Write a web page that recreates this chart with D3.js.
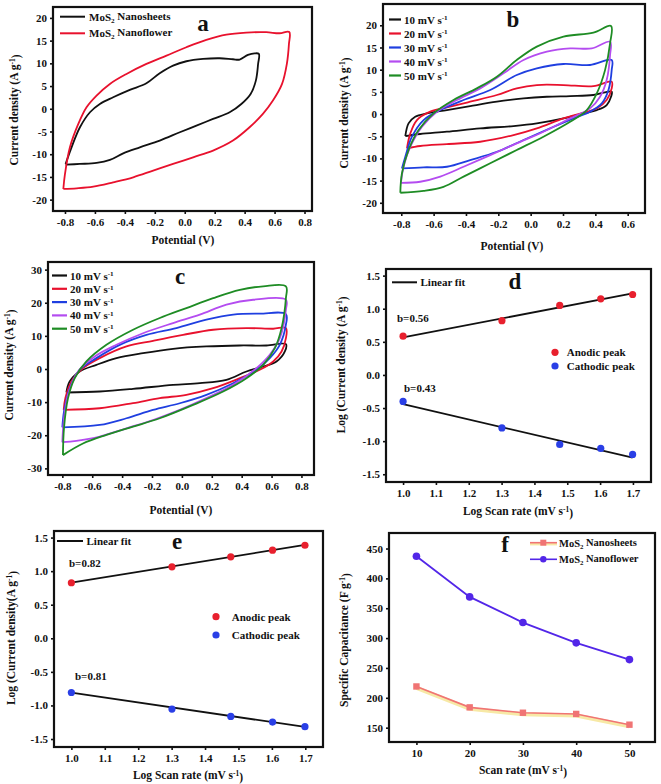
<!DOCTYPE html>
<html><head><meta charset="utf-8">
<script src="https://cdn.jsdelivr.net/npm/d3@7"></script>
<style>body{margin:0;background:#fff}svg{display:block}text{font-family:"Liberation Serif","Times New Roman",serif;font-weight:bold;fill:#111}</style>
</head><body><svg id="c" width="661" height="784"></svg>
<script>
// ---------- DATA ----------
// Panel a: CV at 10 mV/s (x: potential V, y: current density A/g)
const aNanosheets = [[-0.796,-12.15],[-0.756,-8.48],[-0.7,-4.07],[-0.633,-0.77],[-0.567,1.06],[-0.478,2.53],[-0.367,4.15],[-0.256,5.61],[-0.167,7.82],[-0.078,9.5],[0.011,10.46],[0.122,10.97],[0.233,11.12],[0.322,10.9],[0.367,10.83],[0.422,11.85],[0.467,12.2],[0.495,12.07],[0.49,9.87],[0.475,6.2],[0.44,3.27],[0.378,1.06],[0.3,-0.77],[0.189,-2.24],[0.078,-3.71],[-0.033,-5.17],[-0.167,-7.0],[-0.3,-8.48],[-0.411,-9.8],[-0.5,-11.26],[-0.589,-11.93],[-0.7,-12.15],[-0.796,-12.3]];
const aNanoflower = [[-0.811,-17.65],[-0.8,-14.35],[-0.767,-8.48],[-0.711,-3.34],[-0.656,0.33],[-0.589,2.9],[-0.5,5.47],[-0.389,7.67],[-0.256,9.87],[-0.122,11.71],[0.011,13.54],[0.144,15.16],[0.278,16.33],[0.411,16.77],[0.544,16.85],[0.633,16.62],[0.698,16.9],[0.696,14.28],[0.682,9.87],[0.65,5.47],[0.589,1.8],[0.522,-1.14],[0.433,-4.07],[0.322,-7.0],[0.189,-9.2],[0.056,-10.68],[-0.078,-12.15],[-0.211,-13.61],[-0.344,-15.08],[-0.478,-16.18],[-0.611,-17.14],[-0.722,-17.5],[-0.811,-17.65]];
const aNames = ["MoS2 Nanosheets","MoS2 Nanoflower"];

// Panel b: CV at different scan rates
const bRates = ["10","20","30","40","50"];
const b10 = [[-0.775,-4.96],[-0.755,-2.1],[-0.714,-0.6],[-0.641,0.15],[-0.518,0.9],[-0.374,1.8],[-0.209,2.78],[-0.044,3.53],[0.1,3.9],[0.244,4.06],[0.388,4.29],[0.501,5.04],[0.497,3.9],[0.47,2.03],[0.409,0.9],[0.326,0.15],[0.203,-0.98],[0.038,-2.1],[-0.106,-2.7],[-0.312,-3.23],[-0.518,-3.98],[-0.683,-4.5],[-0.775,-4.96]];
const b20 = [[-0.765,-7.74],[-0.744,-4.36],[-0.703,-1.35],[-0.621,0.53],[-0.518,1.5],[-0.374,2.78],[-0.209,4.29],[-0.086,5.79],[0.038,6.54],[0.203,6.54],[0.388,6.3],[0.501,7.3],[0.501,5.79],[0.47,3.16],[0.409,1.28],[0.326,0.3],[0.203,-0.98],[0.038,-3.23],[-0.106,-4.74],[-0.312,-6.24],[-0.518,-6.77],[-0.683,-7.2],[-0.765,-7.74]];
const b30 = [[-0.796,-12.26],[-0.775,-9.6],[-0.734,-5.1],[-0.662,-1.35],[-0.559,0.9],[-0.415,3.16],[-0.25,5.41],[-0.086,8.8],[0.038,10.3],[0.203,11.28],[0.367,11.05],[0.501,12.18],[0.501,9.9],[0.481,5.41],[0.44,2.4],[0.367,0.53],[0.264,-0.98],[0.12,-3.23],[-0.044,-5.86],[-0.209,-8.5],[-0.374,-10.38],[-0.518,-11.88],[-0.662,-12.0],[-0.796,-12.26]];
const b40 = [[-0.802,-15.5],[-0.786,-11.88],[-0.744,-7.37],[-0.672,-2.86],[-0.58,0.53],[-0.456,3.16],[-0.312,5.79],[-0.168,9.17],[-0.044,12.18],[0.1,14.06],[0.244,14.8],[0.378,14.8],[0.491,16.3],[0.491,13.3],[0.47,7.67],[0.429,3.9],[0.367,1.28],[0.244,-0.98],[0.079,-3.98],[-0.086,-6.6],[-0.25,-9.25],[-0.415,-11.88],[-0.559,-14.1],[-0.683,-15.26],[-0.802,-15.5]];
const b50 = [[-0.806,-17.74],[-0.796,-13.4],[-0.755,-8.1],[-0.693,-3.6],[-0.6,0.15],[-0.477,3.16],[-0.333,5.79],[-0.209,8.42],[-0.086,12.18],[0.038,15.2],[0.203,17.44],[0.388,18.35],[0.497,19.85],[0.491,15.94],[0.46,9.9],[0.409,4.66],[0.347,0.9],[0.244,-1.73],[0.079,-5.1],[-0.086,-8.1],[-0.25,-11.1],[-0.415,-14.1],[-0.539,-16.4],[-0.662,-17.3],[-0.806,-17.74]];

// Panel c
const c10 = [[-0.773,-7.1],[-0.751,-3.8],[-0.684,-0.76],[-0.572,1.26],[-0.438,3.28],[-0.26,4.79],[-0.059,6.1],[0.164,6.8],[0.388,7.1],[0.566,7.1],[0.696,7.5],[0.689,5.3],[0.633,2.27],[0.544,0.76],[0.432,-0.76],[0.298,-3.28],[0.12,-4.29],[-0.059,-4.79],[-0.327,-6.0],[-0.55,-6.8],[-0.773,-7.1]];
const c20 = [[-0.791,-12.35],[-0.78,-8.8],[-0.74,-3.8],[-0.662,0.25],[-0.55,3.28],[-0.371,6.8],[-0.193,8.5],[0.008,10.3],[0.209,11.85],[0.432,12.35],[0.611,12.15],[0.696,12.35],[0.696,9.3],[0.667,5.3],[0.611,2.27],[0.521,-0.25],[0.388,-2.77],[0.209,-5.8],[0.03,-7.8],[-0.148,-8.8],[-0.327,-10.3],[-0.55,-11.85],[-0.791,-12.35]];
const c30 = [[-0.8,-17.6],[-0.789,-12.86],[-0.751,-5.8],[-0.684,-0.25],[-0.572,3.28],[-0.416,7.3],[-0.237,10.3],[-0.037,12.35],[0.164,14.87],[0.343,16.4],[0.521,16.7],[0.696,16.6],[0.696,13.36],[0.655,7.3],[0.588,3.28],[0.499,-0.25],[0.343,-4.29],[0.164,-7.8],[-0.014,-10.34],[-0.193,-12.35],[-0.371,-14.87],[-0.55,-16.9],[-0.8,-17.6]];
const c40 = [[-0.8,-22.1],[-0.791,-15.9],[-0.762,-7.8],[-0.695,-0.76],[-0.583,3.78],[-0.438,7.3],[-0.26,10.8],[-0.059,13.87],[0.12,16.4],[0.298,19.4],[0.477,20.9],[0.696,20.9],[0.696,17.9],[0.655,9.3],[0.588,4.29],[0.499,0.25],[0.343,-4.79],[0.164,-8.8],[-0.014,-12.35],[-0.193,-15.4],[-0.371,-17.9],[-0.55,-20.4],[-0.706,-21.7],[-0.8,-22.1]];
const c50 = [[-0.796,-26],[-0.789,-17.9],[-0.762,-8.8],[-0.717,-2.77],[-0.639,2.27],[-0.505,7.3],[-0.327,11.85],[-0.148,15.4],[0.03,18.4],[0.209,21.4],[0.388,23.9],[0.544,24.96],[0.696,24.96],[0.696,21.4],[0.667,12.35],[0.622,6.3],[0.544,1.26],[0.432,-2.77],[0.276,-6.8],[0.075,-10.84],[-0.148,-14.87],[-0.327,-17.4],[-0.505,-19.9],[-0.662,-22.5],[-0.796,-26]];

// Panels d and e: log scan rate vs log peak current
const logRate = [1.0, 1.301, 1.477, 1.602, 1.699];
const dAnodic = [0.585, 0.82, 1.05, 1.15, 1.215];
const dCathodic = [-0.40, -0.80, -1.05, -1.11, -1.20];
const dFitAnodic = [[1.0, 0.567], [1.699, 1.233]];
const dFitCathodic = [[1.0, -0.44], [1.699, -1.25]];
const eAnodic = [0.827, 1.064, 1.213, 1.312, 1.386];
const eCathodic = [-0.807, -1.054, -1.163, -1.248, -1.317];
const eFitAnodic = [[1.0, 0.83], [1.699, 1.39]];
const eFitCathodic = [[1.0, -0.81], [1.699, -1.32]];

// Panel f: specific capacitance vs scan rate
const scanRate = [10, 20, 30, 40, 50];
const fNanosheets = [219, 184, 175, 173, 155];
const fNanoflower = [437, 369, 326, 292, 264];

// ---------- DRAWING ----------
const svg = d3.select("#c");
svg.append("rect").attr("width",661).attr("height",784).attr("fill","#fff");
const cvColors = ["#111111","#e8112d","#1f3fe0","#b44cf0","#1e8c24"];

function addRich(t, parts){ // parts: [text, type]
  parts.forEach(([s,type])=>{
    const ts = t.append("tspan").text(s);
    if(type==="sup"){ts.attr("font-size","0.65em").attr("dy","-0.45em");}
    if(type==="sub"){ts.attr("font-size","0.65em").attr("dy","0.3em");}
    if(type==="back"){ts.attr("dy", t._last==="sup" ? "0.45em" : "-0.3em");}
    t._last = type;
  });
  return t;
}
function rich(g, x, y, parts, opts={}){
  const t = g.append("text").attr("x",x).attr("y",y).attr("font-size",opts.size||11);
  if(opts.anchor) t.attr("text-anchor",opts.anchor);
  if(opts.rotate) t.attr("transform",`rotate(-90,${x},${y})`);
  addRich(t, parts);
  return t;
}

function panel(cfg){
  const g = svg.append("g");
  const x = d3.scaleLinear().domain(cfg.xd).range([cfg.L,cfg.R]);
  const y = d3.scaleLinear().domain(cfg.yd).range([cfg.B,cfg.T]);
  const xa = d3.axisBottom(x).tickValues(cfg.xt).tickFormat(cfg.xf).tickSize(3).tickPadding(4);
  const ya = d3.axisLeft(y).tickValues(cfg.yt).tickFormat(cfg.yf).tickSize(3).tickPadding(3);
  const gx = g.append("g").attr("transform",`translate(0,${cfg.B})`).call(xa);
  const gy = g.append("g").attr("transform",`translate(${cfg.L},0)`).call(ya);
  [gx,gy].forEach(a=>{
    a.select(".domain").remove();
    a.selectAll("line").attr("stroke","#111").attr("stroke-width",1.6);
    a.selectAll("text").attr("font-size",11).attr("font-family",'"Liberation Serif",serif').attr("font-weight","bold").attr("fill","#111");
  });
  const id = "clip"+cfg.name;
  svg.append("clipPath").attr("id",id).append("rect").attr("x",cfg.L).attr("y",cfg.T).attr("width",cfg.R-cfg.L).attr("height",cfg.B-cfg.T);
  const plot = g.append("g").attr("clip-path",`url(#${id})`);
  g.append("rect").attr("x",cfg.L).attr("y",cfg.T).attr("width",cfg.R-cfg.L).attr("height",cfg.B-cfg.T)
    .attr("fill","none").attr("stroke","#111").attr("stroke-width",2.2);
  rich(g, cfg.xl[0], cfg.xl[1], cfg.xlabel, {anchor:"middle", size:11.5});
  rich(g, cfg.yl[0], cfg.yl[1], cfg.ylabel, {anchor:"middle", size:11.5, rotate:true});
  g.append("text").attr("x",cfg.letter[0]).attr("y",cfg.letter[1]).attr("text-anchor","middle").attr("font-size",23).text(cfg.name);
  return {g, plot, x, y};
}
const f1 = d=>d.toFixed(1);
const f0 = d=>String(d);
const cvLine = (p)=>d3.line().x(d=>p.x(d[0])).y(d=>p.y(d[1])).curve(d3.curveCatmullRom.alpha(0.5));

// Panel a
const pa = panel({name:"a",L:53,R:312,T:7,B:211,xd:[-0.88,0.85],yd:[-22.5,22.4],
  xt:d3.range(-0.8,0.81,0.2),xf:f1,yt:d3.range(-20,21,5),yf:f0,
  xl:[183,244],yl:[18,110],letter:[203,31],
  xlabel:[["Potential (V)"]],ylabel:[["Current density (A g"],["-1","sup"],[")","back"]]});
[aNanosheets,aNanoflower].forEach((s,i)=>{
  pa.plot.append("path").datum(s).attr("d",cvLine(pa)).attr("fill","none").attr("stroke",i?"#e8112d":"#111").attr("stroke-width",1.8);
});
aNames.forEach((n,i)=>{
  const yy = [16.7,33.3][i];
  pa.g.append("line").attr("x1",60).attr("x2",85).attr("y1",yy).attr("y2",yy).attr("stroke",i?"#e8112d":"#111").attr("stroke-width",2);
  rich(pa.g, 89, yy+4, [["MoS"],["2","sub"],[n.slice(4),"back"]], {size:11});
});

// Panel b
const pb = panel({name:"b",L:383,R:645,T:4,B:213,xd:[-0.913,0.707],yd:[-22.3,24.8],
  xt:d3.range(-0.8,0.61,0.2),xf:f1,yt:d3.range(-20,21,5),yf:f0,
  xl:[512,250],yl:[348,113],letter:[513,27],
  xlabel:[["Potential (V)"]],ylabel:[["Current density (A g"],["-1","sup"],[")","back"]]});
[b10,b20,b30,b40,b50].forEach((s,i)=>{
  pb.plot.append("path").datum(s).attr("d",cvLine(pb)).attr("fill","none").attr("stroke",cvColors[i]).attr("stroke-width",1.8);
});
bRates.forEach((r,i)=>{
  const yy = 19.5+i*14;
  pb.g.append("line").attr("x1",389).attr("x2",401).attr("y1",yy).attr("y2",yy).attr("stroke",cvColors[i]).attr("stroke-width",2.2);
  rich(pb.g, 404, yy+4, [[r+" mV s"],["-1","sup"]], {size:11});
});

// Panel c
const pc = panel({name:"c",L:48,R:314,T:262,B:475,xd:[-0.896,0.884],yd:[-32,32.3],
  xt:d3.range(-0.8,0.81,0.2),xf:f1,yt:d3.range(-30,31,10),yf:f0,
  xl:[181,514],yl:[13,365],letter:[180,284],
  xlabel:[["Potential (V)"]],ylabel:[["Current density (A g"],["-1","sup"],[")","back"]]});
[c10,c20,c30,c40,c50].forEach((s,i)=>{
  pc.plot.append("path").datum(s).attr("d",cvLine(pc)).attr("fill","none").attr("stroke",cvColors[i]).attr("stroke-width",1.8);
});
bRates.forEach((r,i)=>{
  const yy = 275.5+i*13.3;
  pc.g.append("line").attr("x1",52).attr("x2",67).attr("y1",yy).attr("y2",yy).attr("stroke",cvColors[i]).attr("stroke-width",2.2);
  rich(pc.g, 70, yy+4, [[r+" mV s"],["-1","sup"]], {size:11});
});

// Panels d, e
function logPanel(cfg, an, ca, fa, fc, leg){
  const p = panel(cfg);
  const ln = d3.line().x(d=>p.x(d[0])).y(d=>p.y(d[1]));
  [fa,fc].forEach(f=>p.plot.append("path").datum(f).attr("d",ln).attr("stroke","#111").attr("stroke-width",1.8).attr("fill","none"));
  [[an,"#e8202e"],[ca,"#2a3fe6"]].forEach(([s,col])=>{
    p.plot.selectAll(null).data(s).enter().append("circle")
      .attr("cx",(d,i)=>p.x(logRate[i])).attr("cy",d=>p.y(d)).attr("r",3.6).attr("fill",col);
  });
  p.g.append("line").attr("x1",leg.fit[0]).attr("x2",leg.fit[1]).attr("y1",leg.fit[2]).attr("y2",leg.fit[2]).attr("stroke","#111").attr("stroke-width",2);
  p.g.append("text").attr("x",leg.fit[1]+3.5).attr("y",leg.fit[2]+4).attr("font-size",11).text("Linear fit");
  p.g.append("text").attr("x",leg.b1[0]).attr("y",leg.b1[1]+4).attr("font-size",11).text(leg.b1[2]);
  p.g.append("text").attr("x",leg.b2[0]).attr("y",leg.b2[1]+4).attr("font-size",11).text(leg.b2[2]);
  [["Anodic peak","#e8202e"],["Cathodic peak","#2a3fe6"]].forEach(([t,col],i)=>{
    const yy = leg.dots[1]+i*leg.dots[3];
    p.g.append("circle").attr("cx",leg.dots[0]).attr("cy",yy).attr("r",3.6).attr("fill",col);
    p.g.append("text").attr("x",leg.dots[2]).attr("y",yy+4).attr("font-size",11).text(t);
  });
  return p;
}
logPanel({name:"d",L:386,R:651,T:269,B:482,xd:[0.948,1.755],yd:[-1.617,1.6],
  xt:d3.range(1.0,1.701,0.1),xf:f1,yt:d3.range(-1.5,1.51,0.5),yf:f1,
  xl:[518,515],yl:[345,365],letter:[515,289],
  xlabel:[["Log Scan rate (mV s"],["-1","sup"],[")","back"]],ylabel:[["Log (Current density (A g"],["-1","sup"],[")","back"]]},
  dAnodic,dCathodic,dFitAnodic,dFitCathodic,
  {fit:[392,417,282.3],b1:[397,318.3,"b=0.56"],b2:[404,388.3,"b=0.43"],dots:[555,352.3,566.7,13.7]});
logPanel({name:"e",L:54,R:323,T:531,B:747,xd:[0.948,1.753],yd:[-1.619,1.598],
  xt:d3.range(1.0,1.701,0.1),xf:f1,yt:d3.range(-1.5,1.51,0.5),yf:f1,
  xl:[188,779],yl:[15,638],letter:[177,549],
  xlabel:[["Log Scan rate (mV s"],["-1","sup"],[")","back"]],ylabel:[["Log (Current density(A g"],["-1","sup"],[")","back"]]},
  eAnodic,eCathodic,eFitAnodic,eFitCathodic,
  {fit:[57,83,541],b1:[69,563.3,"b=0.82"],b2:[75,675.7,"b=0.81"],dots:[216,616.7,231.7,18.3]});

// Panel f
const pf = panel({name:"f",L:389,R:655,T:533,B:742,xd:[4.85,54.8],yd:[126,476],
  xt:scanRate,xf:f0,yt:d3.range(150,451,50),yf:f0,
  xl:[523,774],yl:[348,640],letter:[505,552],
  xlabel:[["Scan rate (mV s"],["-1","sup"],[")","back"]],ylabel:[["Specific Capacitance (F g"],["-1","sup"],[")","back"]]});
const fl = d3.line().x((d,i)=>pf.x(scanRate[i])).y(d=>pf.y(d));
pf.plot.append("path").datum(fNanosheets).attr("d",fl).attr("transform","translate(0,1.5)").attr("fill","none").attr("stroke","#f7e9a6").attr("stroke-width",4);
pf.plot.append("path").datum(fNanosheets).attr("d",fl).attr("fill","none").attr("stroke","#f07474").attr("stroke-width",1.6);
pf.plot.selectAll(null).data(fNanosheets).enter().append("rect")
  .attr("x",(d,i)=>pf.x(scanRate[i])-3.2).attr("y",d=>pf.y(d)-3.2).attr("width",6.4).attr("height",6.4).attr("fill","#f07474");
pf.plot.append("path").datum(fNanoflower).attr("d",fl).attr("fill","none").attr("stroke","#5226e8").attr("stroke-width",1.8);
pf.plot.selectAll(null).data(fNanoflower).enter().append("circle")
  .attr("cx",(d,i)=>pf.x(scanRate[i])).attr("cy",d=>pf.y(d)).attr("r",3.8).attr("fill","#5226e8");
aNames.forEach((n,i)=>{
  const yy=[542.7,559.3][i], col=i?"#5226e8":"#f07474";
  if(!i) pf.g.append("line").attr("x1",530).attr("x2",557).attr("y1",yy+1.2).attr("y2",yy+1.2).attr("stroke","#f7e9a6").attr("stroke-width",3);
  pf.g.append("line").attr("x1",530).attr("x2",557).attr("y1",yy).attr("y2",yy).attr("stroke",col).attr("stroke-width",1.6);
  if(i) pf.g.append("circle").attr("cx",543.3).attr("cy",yy).attr("r",3.2).attr("fill",col);
  else pf.g.append("rect").attr("x",540.3).attr("y",yy-3).attr("width",6).attr("height",6).attr("fill",col);
  rich(pf.g, 559, yy+4, [["MoS"],["2","sub"],[n.slice(4),"back"]], {size:10.5});
});
</script></body></html>
